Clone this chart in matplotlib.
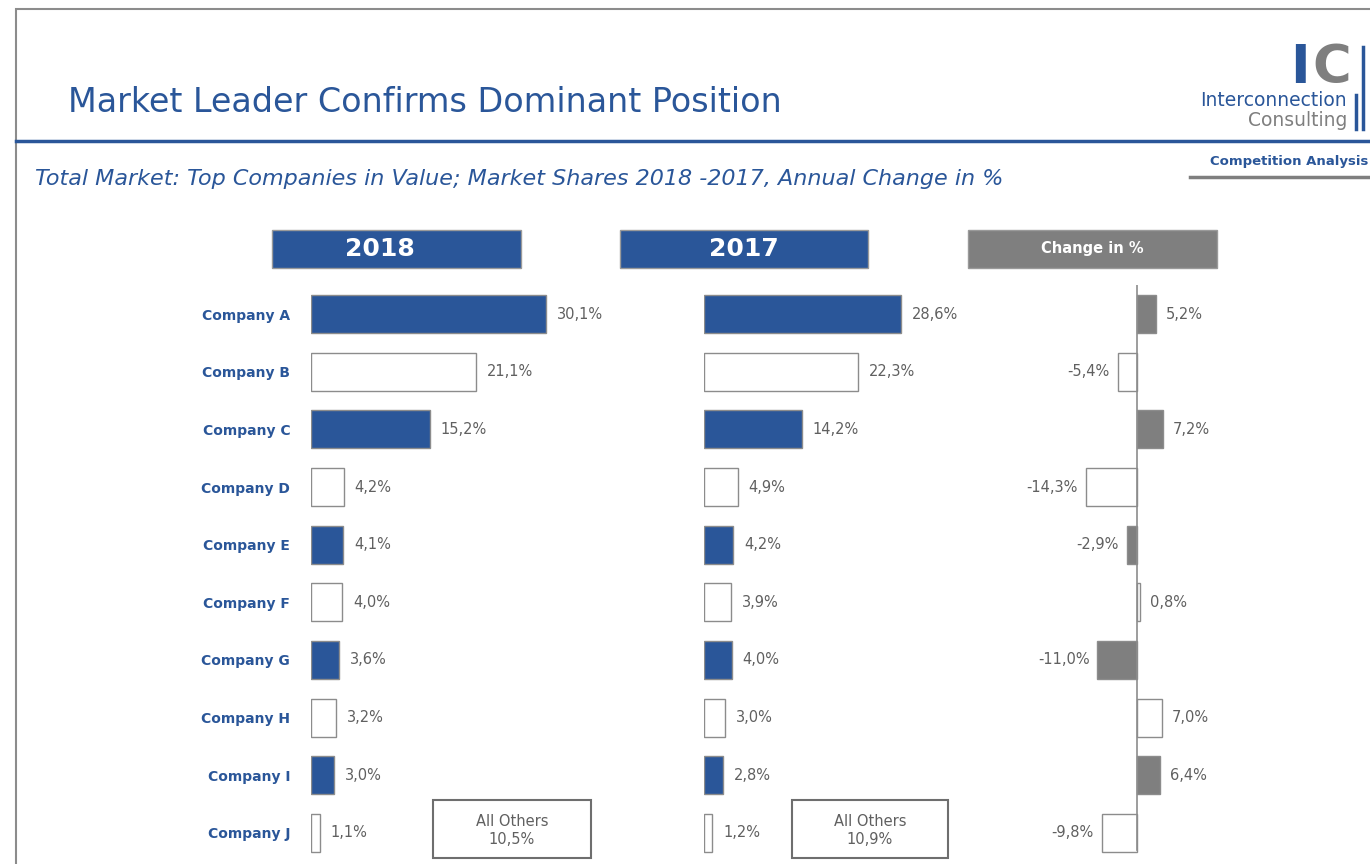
import matplotlib.pyplot as plt
from matplotlib.patches import Rectangle
from matplotlib.lines import Line2D

plt.rcParams['font.family'] = ['DejaVu Sans']

companies = ['Company A', 'Company B', 'Company C', 'Company D', 'Company E',
             'Company F', 'Company G', 'Company H', 'Company I', 'Company J']
share_2018 = [30.1, 21.1, 15.2, 4.2, 4.1, 4.0, 3.6, 3.2, 3.0, 1.1]
share_2017 = [28.6, 22.3, 14.2, 4.9, 4.2, 3.9, 4.0, 3.0, 2.8, 1.2]
change = [5.2, -5.4, 7.2, -14.3, -2.9, 0.8, -11.0, 7.0, 6.4, -9.8]
others_2018 = 10.5
others_2017 = 10.9

BLUE = '#2A5699'
GREY = '#7F7F7F'
TXT = '#606060'
W, H = 1370, 864


def fx(px):
    return px / W


def fy(py):
    return 1 - py / H


def fmt(v):
    return f'{v:.1f}%'.replace('.', ',')


fig = plt.figure(figsize=(13.7, 8.64), dpi=100)

# frame, title, lines
fig.add_artist(Rectangle((fx(16), fy(870)), fx(1380 - 16), fy(9) - fy(870),
                         transform=fig.transFigure, fill=False, ec='#8C8C8C', lw=1.5))
fig.text(fx(68), fy(103), 'Market Leader Confirms Dominant Position', fontsize=24,
         color=BLUE, va='center')
fig.add_artist(Line2D([fx(16), 1], [fy(141), fy(141)], color=BLUE, lw=2.5))
fig.text(fx(35), fy(179), 'Total Market: Top Companies in Value; Market Shares 2018 -2017, Annual Change in %',
         fontsize=16, color=BLUE, style='italic', va='center')

# logo
fig.text(fx(1290), fy(68), 'I', fontsize=38, fontweight='bold', color=BLUE, va='center')
fig.text(fx(1312), fy(68), 'C', fontsize=38, fontweight='bold', color=GREY, va='center')
fig.text(fx(1347), fy(100), 'Interconnection', fontsize=13.5, color=BLUE, ha='right', va='center')
fig.text(fx(1347), fy(121), 'Consulting', fontsize=13.5, color=GREY, ha='right', va='center')
fig.add_artist(Line2D([fx(1356), fx(1356)], [fy(95), fy(129)], color=BLUE, lw=2.5))
fig.add_artist(Line2D([fx(1363), fx(1363)], [fy(47), fy(129)], color=BLUE, lw=2.5))
fig.text(fx(1210), fy(161), 'Competition Analysis', fontsize=9.5, fontweight='bold', color=BLUE, va='center')
fig.add_artist(Line2D([fx(1190), 1], [fy(177), fy(177)], color=GREY, lw=2.5))

# header boxes
for x0, x1, tx, label, col, fs, fw in [(272, 521, 380, '2018', BLUE, 18, 'semibold'),
                                        (620, 868, 744, '2017', BLUE, 18, 'semibold'),
                                        (968, 1217, 1092, 'Change in %', GREY, 10.5, 'bold')]:
    fig.add_artist(Rectangle((fx(x0), fy(268)), fx(x1 - x0), fy(230) - fy(268),
                             transform=fig.transFigure, fc=col, ec='#9A9A9A', lw=1))
    fig.text(fx(tx), fy(249), label, color='white', fontsize=fs,
             fontweight=fw, ha='center', va='center')

row_top, row_bot = 285.2, 861.8
ax_b = fy(row_bot)
ax_h = (row_bot - row_top) / H
rows = list(range(len(companies)))
fills = ['fill' if i % 2 == 0 else 'empty' for i in rows]


def share_panel(left, scale, values, show_names):
    xmax = 36
    ax = fig.add_axes([fx(left), ax_b, fx(xmax * scale), ax_h])
    for i, v in enumerate(values):
        fc = BLUE if fills[i] == 'fill' else 'white'
        ax.barh(i, v, height=0.66, color=fc, edgecolor='#8C8C8C', lw=1)
        ax.annotate(fmt(v), (v, i), xytext=(11, 0), textcoords='offset pixels',
                    va='center', ha='left', fontsize=10.5, color=TXT)
    ax.set_xlim(0, xmax)
    ax.set_ylim(9.5, -0.5)
    for s in ax.spines.values():
        s.set_visible(False)
    ax.set_xticks([])
    if show_names:
        ax.set_yticks(rows, companies)
        ax.tick_params(axis='y', length=0, pad=15, labelsize=10, labelcolor=BLUE)
        for t in ax.get_yticklabels():
            t.set_fontweight('bold')
    else:
        ax.set_yticks([])
    return ax


share_panel(311, 7.81, share_2018, True)
share_panel(704, 6.89, share_2017, False)

# "All Others" boxes
for x0, x1, v in [(433, 591, others_2018), (792, 948, others_2017)]:
    fig.add_artist(Rectangle((fx(x0), fy(858)), fx(x1 - x0), fy(800) - fy(858),
                             transform=fig.transFigure, fc='white', ec='#6E6E6E', lw=1.5))
    fig.text(fx((x0 + x1) / 2), fy(830), 'All Others\n' + fmt(v), color=TXT,
             fontsize=10.5, ha='center', va='center', linespacing=1.25)

# change panel
scale_c = 3.6
cmin, cmax = -16, 10
axc = fig.add_axes([fx(1137 + cmin * scale_c), ax_b, fx((cmax - cmin) * scale_c), ax_h])
for i, v in enumerate(change):
    fc = GREY if fills[i] == 'fill' else 'white'
    axc.barh(i, v, height=0.66, color=fc, edgecolor='#8C8C8C', lw=1)
    off = 10 if v >= 0 else -8
    axc.annotate(fmt(v), (v, i), xytext=(off, 0), textcoords='offset pixels',
                 va='center', ha='left' if v >= 0 else 'right', fontsize=10.5, color=TXT)
axc.axvline(0, ymin=0.02, ymax=1.0, color='#8C8C8C', lw=1.2)
axc.set_xlim(cmin, cmax)
axc.set_ylim(9.5, -0.5)
axc.axis('off')

fig.savefig('out.png', dpi=100)
